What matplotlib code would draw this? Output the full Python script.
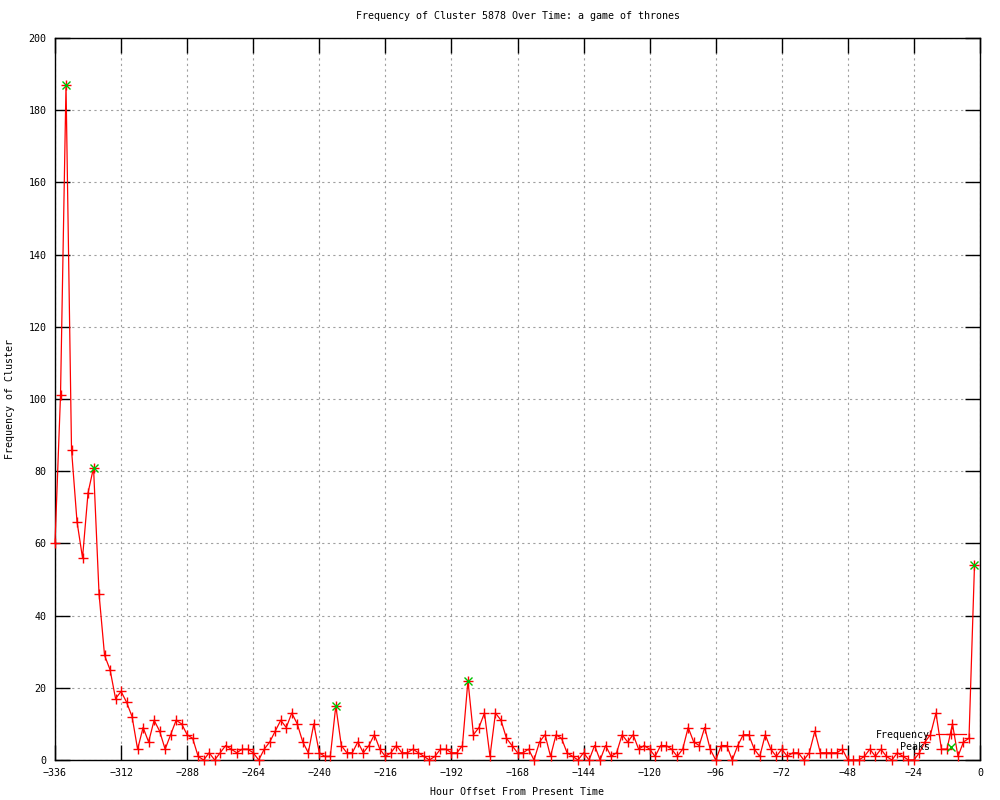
import numpy as np
import matplotlib
matplotlib.use("Agg")
import matplotlib.pyplot as plt

# hourly buckets, every 2 hours from -336 up to -2
hours = np.arange(-336, 0, 2)
freq = [60, 101, 187, 86, 66, 56, 74, 81, 46, 29,
        25, 17, 19, 16, 12, 3, 9, 5, 11, 8,
        3, 7, 11, 10, 7, 6, 1, 0, 2, 0,
        2, 4, 3, 2, 3, 3, 2, 0, 3, 5,
        8, 11, 9, 13, 10, 5, 2, 10, 2, 1,
        1, 15, 4, 2, 2, 5, 2, 4, 7, 3,
        1, 2, 4, 2, 2, 3, 2, 1, 0, 1,
        3, 3, 2, 2, 4, 22, 7, 9, 13, 1,
        13, 11, 6, 4, 2, 2, 3, 0, 5, 7,
        1, 7, 6, 2, 1, 0, 2, 0, 4, 0,
        4, 1, 2, 7, 5, 7, 3, 4, 3, 1,
        4, 4, 3, 1, 3, 9, 5, 4, 9, 3,
        0, 4, 4, 0, 4, 7, 7, 3, 1, 7,
        3, 1, 3, 1, 2, 2, 0, 2, 8, 2,
        2, 2, 2, 3, 0, 0, 0, 1, 3, 1,
        3, 1, 0, 2, 1, 0, 0, 2, 5, 7,
        13, 3, 3, 10, 1, 5, 6, 54]

peak_hours = [-332, -322, -234, -186, -2]
peak_vals = [187, 81, 15, 22, 54]

title = "Frequency of Cluster 5878 Over Time: a game of thrones"

plt.rcParams['font.family'] = ['DejaVu Sans Mono']
fs = 7.2

fig = plt.figure(figsize=(10, 8), dpi=100)
ax = fig.add_axes([0.055, 0.05, 0.925, 0.9025])

ax.plot(hours, freq, color='red', lw=0.9, marker='+', markersize=6.5,
        markeredgewidth=1.0, label='Frequency', clip_on=False, zorder=3)
ax.plot(peak_hours, peak_vals, linestyle='none', color='#00c000', marker='x',
        markersize=5.5, markeredgewidth=1.0, label='Peaks', clip_on=False, zorder=4)

ax.set_xlim(-336, 0)
ax.set_ylim(0, 200)
ax.set_xticks(np.arange(-336, 1, 24))
ax.set_yticks(np.arange(0, 201, 20))
ax.tick_params(direction='in', length=11, width=1, top=True, right=True,
               labelsize=fs, pad=6)
ax.grid(True, color='#a0a0a0', linestyle=(0, (2, 3)), linewidth=0.8)
for s in ax.spines.values():
    s.set_linewidth(1)

ax.set_title(title, fontsize=fs, pad=14)
ax.set_xlabel("Hour Offset From Present Time", fontsize=fs, labelpad=6)
ax.set_ylabel("Frequency of Cluster", fontsize=fs, labelpad=10)

ax.legend(loc='lower right', bbox_to_anchor=(0.989, 0.005), frameon=False,
          markerfirst=False, fontsize=fs, handlelength=3.0, handletextpad=0.6,
          labelspacing=0.25, borderaxespad=0, numpoints=1)

fig.savefig("out.png", dpi=100)
